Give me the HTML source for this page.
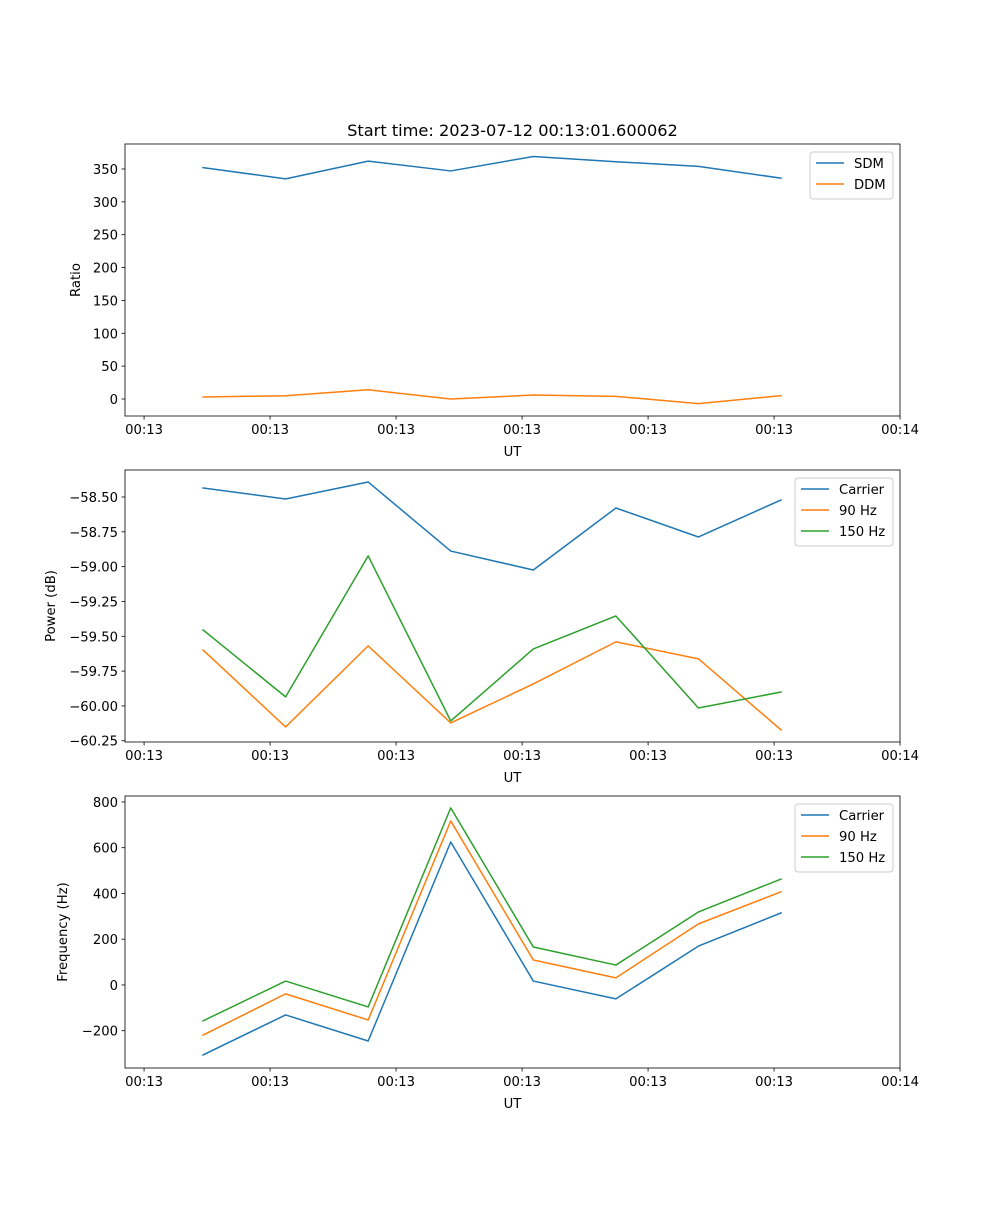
<!DOCTYPE html>
<html><head><meta charset="utf-8"><style>
html,body{margin:0;padding:0;background:#fff;}
svg text{font-family:"DejaVu Sans","Liberation Sans",sans-serif;fill:#000;}
</style></head>
<body>
<svg id="fig" width="1000" height="1200" xmlns="http://www.w3.org/2000/svg">
<rect width="1000" height="1200" fill="#fff"/>
<text x="512.5" y="136" font-size="16.2" text-anchor="middle">Start time: 2023-07-12 00:13:01.600062</text>
</svg>
<script>
const xIdx = [0,1,2,3,4,5,6,7];
const xTickPos = [-0.714,0.812,2.338,3.864,5.390,6.916,8.442];
const xTickLabels = ["00:13","00:13","00:13","00:13","00:13","00:13","00:14"];
const sdm = [352,335,362,347,369,361,354,336];
const ddm = [3,5,14,0,6,4,-7,5];
const ratioTicks = [0,50,100,150,200,250,300,350];
const pCarrier = [-58.435,-58.514,-58.392,-58.888,-59.024,-58.579,-58.787,-58.521];
const p90 = [-59.598,-60.151,-59.569,-60.122,-59.842,-59.540,-59.662,-60.172];
const p150 = [-59.454,-59.935,-58.923,-60.108,-59.591,-59.354,-60.015,-59.900];
const powerTicks = [-60.25,-60.00,-59.75,-59.50,-59.25,-59.00,-58.75,-58.50];
const fCarrier = [-306,-131,-245,625,17,-61,170,315];
const f90 = [-219,-39,-153,717,109,31,267,407];
const f150 = [-157,17,-96,774,166,87,319,463];
const freqTicks = [-200,0,200,400,600,800];

const NS="http://www.w3.org/2000/svg";
const svg=document.getElementById('fig');
function mk(tag,attrs,parent){const e=document.createElementNS(NS,tag);for(const k in attrs)e.setAttribute(k,attrs[k]);(parent||svg).appendChild(e);return e;}
const L=125,R=900;
const xMin=-0.945,xMax=8.441;
function xs(v){return L+(v-xMin)/(xMax-xMin)*(R-L);}

function panel(cfg){
  const g=mk('g',{});
  
  
  const ys=v=>cfg.bot-(v-cfg.yMin)/(cfg.yMax-cfg.yMin)*(cfg.bot-cfg.top);
  cfg.series.forEach(s=>{
    const pts=s.vals.map((v,i)=>xs(xIdx[i]).toFixed(2)+','+ys(v).toFixed(2)).join(' ');
    const p=mk('polyline',{points:pts,fill:'none',stroke:s.color,'stroke-width':1.5,'stroke-linejoin':'round','stroke-linecap':'square'},g);
    
    
  });
  const fr=mk('rect',{x:L,y:cfg.top,width:R-L,height:cfg.bot-cfg.top,fill:'none',stroke:'#000','stroke-width':0.8},g);
  
  
  xTickPos.forEach((t,i)=>{
    const x=xs(t);
    mk('line',{x1:x,x2:x,y1:cfg.bot,y2:cfg.bot+3.5,stroke:'#000','stroke-width':0.8},g);
    const tx=mk('text',{x:x,y:cfg.bot+18,'font-size':13.2,'text-anchor':'middle'},g);
    tx.textContent=xTickLabels[i];
    
    
  });
  cfg.ticks.forEach(t=>{
    const y=ys(t);
    mk('line',{x1:L-3.5,x2:L,y1:y,y2:y,stroke:'#000','stroke-width':0.8},g);
    const tx=mk('text',{x:L-7,y:y+5,'font-size':13.2,'text-anchor':'end'},g);
    tx.textContent=cfg.fmt(t);
    
    
  });
  const xl=mk('text',{x:(L+R)/2,y:cfg.bot+40,'font-size':13.2,'text-anchor':'middle'},g);
  xl.textContent='UT';
  
  
  const yx=cfg.ylx, yy=(cfg.top+cfg.bot)/2;
  const yl=mk('text',{x:yx,y:yy,'font-size':13.2,'text-anchor':'middle',transform:`rotate(-90 ${yx} ${yy})`},g);
  yl.textContent=cfg.ylabel;
  
  
  const lg=mk('g',{},g);
  
  
  const n=cfg.series.length;
  mk('rect',{x:cfg.lgx,y:cfg.top+8,width:R-7-cfg.lgx,height:n*21+5,rx:3,fill:'#fff','fill-opacity':0.8,stroke:'#ccc','stroke-width':1},lg);
  cfg.series.forEach((s,i)=>{
    const y=cfg.top+19+i*21;
    mk('line',{x1:cfg.lgx+6,x2:cfg.lgx+34,y1:y,y2:y,stroke:s.color,'stroke-width':1.5},lg);
    const t=mk('text',{x:cfg.lgx+44,y:y+5,'font-size':13.2},lg);
    t.textContent=s.label;
    
    
  });
}
const B='#1f77b4',O='#ff7f0e',G='#2ca02c';
panel({name:'ratio-panel',top:144,bot:416,yMin:-25.9,yMax:388,ticks:ratioTicks,fmt:v=>String(v),ylabel:'Ratio',ylx:80,lgx:810,
  series:[{id:'sdm',label:'SDM',vals:sdm,color:B},{id:'ddm',label:'DDM',vals:ddm,color:O}]});
panel({name:'power-panel',top:470,bot:742,yMin:-60.259,yMax:-58.306,ticks:powerTicks,fmt:v=>v.toFixed(2).replace('-','\u2212'),ylabel:'Power (dB)',ylx:55,lgx:795,
  series:[{id:'power-carrier',label:'Carrier',vals:pCarrier,color:B},{id:'power-90hz',label:'90 Hz',vals:p90,color:O},{id:'power-150hz',label:'150 Hz',vals:p150,color:G}]});
panel({name:'frequency-panel',top:796,bot:1068,yMin:-363,yMax:826,ticks:freqTicks,fmt:v=>String(v).replace('-','\u2212'),ylabel:'Frequency (Hz)',ylx:67,lgx:795,
  series:[{id:'freq-carrier',label:'Carrier',vals:fCarrier,color:B},{id:'freq-90hz',label:'90 Hz',vals:f90,color:O},{id:'freq-150hz',label:'150 Hz',vals:f150,color:G}]});
</script>
</body></html>
